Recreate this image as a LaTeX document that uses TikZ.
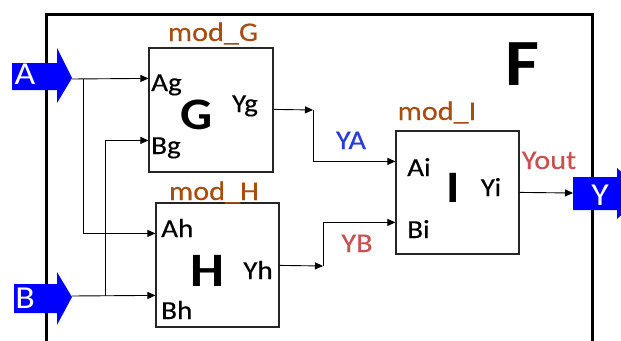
\documentclass[tikz,border=0pt]{standalone}
\usepackage{fontspec}
\setmainfont{Carlito}[FakeStretch=1.12]
\newfontfamily\lblfont{Carlito}[FakeStretch=1.12,FakeBold=0.3]
\usetikzlibrary{arrows.meta,calc}
\definecolor{modc}{RGB}{166,77,18}
\definecolor{yac}{RGB}{40,60,220}
\definecolor{ybc}{RGB}{200,80,80}
\definecolor{portc}{RGB}{0,0,255}
\begin{document}
\begin{tikzpicture}[x=1pt,y=-1pt,
  box/.style={draw=black!85,line width=1.2pt,inner sep=0pt,minimum width=123pt,minimum height=124pt},
  wire/.style={draw=black,line width=0.9pt},
  arr/.style={-{Triangle[length=8pt,width=7pt]}},
  plbl/.style={font=\lblfont\fontsize{26}{26}\selectfont,inner sep=0pt},
  modlbl/.style={font=\lblfont\fontsize{27}{27}\selectfont,text=modc,inner sep=0pt,anchor=base},
  biglbl/.style={font=\fontsize{45}{45}\selectfont\bfseries,inner sep=0pt,anchor=base},
  siglbl/.style={font=\lblfont\fontsize{27}{27}\selectfont,inner sep=0pt,anchor=base},
  portlbl/.style={font=\fontsize{32}{32}\selectfont,text=white,inner sep=0pt,anchor=base},
  portfill/.style={fill=portc}]
\useasboundingbox (0,0) rectangle (621,340);
% outer module F
\draw[line width=3pt] (46.5,341) -- (46.5,14) -- (592,14) -- (592,341);
\node[biglbl,font=\fontsize{66}{66}\selectfont\bfseries] (F) at (522,85) {F};
% boxes
\node[box,minimum width=124pt] (G) at (211,110) {};
\node[box] (H) at (217.5,265) {};
\node[box,minimum height=123pt] (I) at (457.5,192.5) {};
\node[modlbl] (mG) at (213,41) {mod\_G};
\node[modlbl] (mH) at (214,200) {mod\_H};
\node[modlbl] (mI) at (437,120) {mod\_I};
\node[biglbl] (Gl) at (197,129) {G};
\node[biglbl,font=\fontsize{48}{48}\selectfont\bfseries] (Hl) at (207,286) {H};
\node[biglbl] (Il) at (453,202) {I};
% port labels
\node[plbl,anchor=base west] (Ag) at (151,91) {Ag};
\node[plbl,anchor=base west] (Bg) at (151,154) {Bg};
\node[plbl,anchor=base] (Yg) at (245,112) {Yg};
\node[plbl,anchor=base west] (Ah) at (161,237) {Ah};
\node[plbl,anchor=base west] (Bh) at (161,319) {Bh};
\node[plbl,anchor=base] (Yh) at (258,279) {Yh};
\node[plbl,anchor=base west] (Ai) at (407,176) {Ai};
\node[plbl,anchor=base west] (Bi) at (407,238) {Bi};
\node[plbl,anchor=base] (Yi) at (491,196) {Yi};
% ports
\fill[portfill] (12,63) -- (57,63) -- (57,48) -- (72,78) -- (57,103) -- (57,90) -- (12,90) -- cycle;
\coordinate (Atip) at (72,79);
\node[portlbl] (Al) at (25,84) {A};
\fill[portfill] (14,284) -- (57,284) -- (57,272) -- (72,297) -- (57,325) -- (57,313) -- (14,313) -- cycle;
\coordinate (Btip) at (72,296);
\node[portlbl] (Bl) at (25,308) {B};
\fill[portfill] (573,177) -- (617,177) -- (617,168) -- (645,193.5) -- (617,219) -- (617,210) -- (573,210) -- cycle;
\coordinate (Yport) at (573,193);
\node[portlbl] (Yl) at (600,205) {Y};
% port points on boxes
\coordinate (pAg) at ($(G.north west)+(0,31)$);
\coordinate (pBg) at ($(G.north west)+(0,93)$);
\coordinate (pYg) at ($(G.north east)+(0,62)$);
\coordinate (pAh) at ($(H.north west)+(0,31)$);
\coordinate (pBh) at ($(H.north west)+(0,93)$);
\coordinate (pYh) at ($(H.north east)+(0,63)$);
\coordinate (pAi) at ($(I.north west)+(0,31)$);
\coordinate (pBi) at ($(I.north west)+(0,92)$);
\coordinate (pYi) at ($(I.north east)+(0,62)$);
\coordinate (jA) at (83,79);
\coordinate (jB) at (105,296);
\coordinate (kA) at (313,110);
\coordinate (kB) at (323,266);
% wires
\draw[wire,arr] (Atip) -- (pAg);
\draw[wire,arr] (jA) |- (pAh);
\draw[wire,arr] (Btip) -- (pBh);
\draw[wire,arr] (jB) |- (pBg);
\draw[wire,arr] (pYg) -- (kA);
\draw[wire,arr] (kA) |- (pAi);
\draw[wire,arr] (pYh) -- (kB);
\draw[wire,arr] (kB) |- (pBi);
\draw[wire,arr] (pYi) -- (Yport);
% signal labels
\node[siglbl,text=yac] (YA) at (351,149) {YA};
\node[siglbl,text=ybc] (YB) at (357,252) {YB};
\node[siglbl,text=ybc] (Yout) at (549,169) {Yout};
\end{tikzpicture}
\end{document}
